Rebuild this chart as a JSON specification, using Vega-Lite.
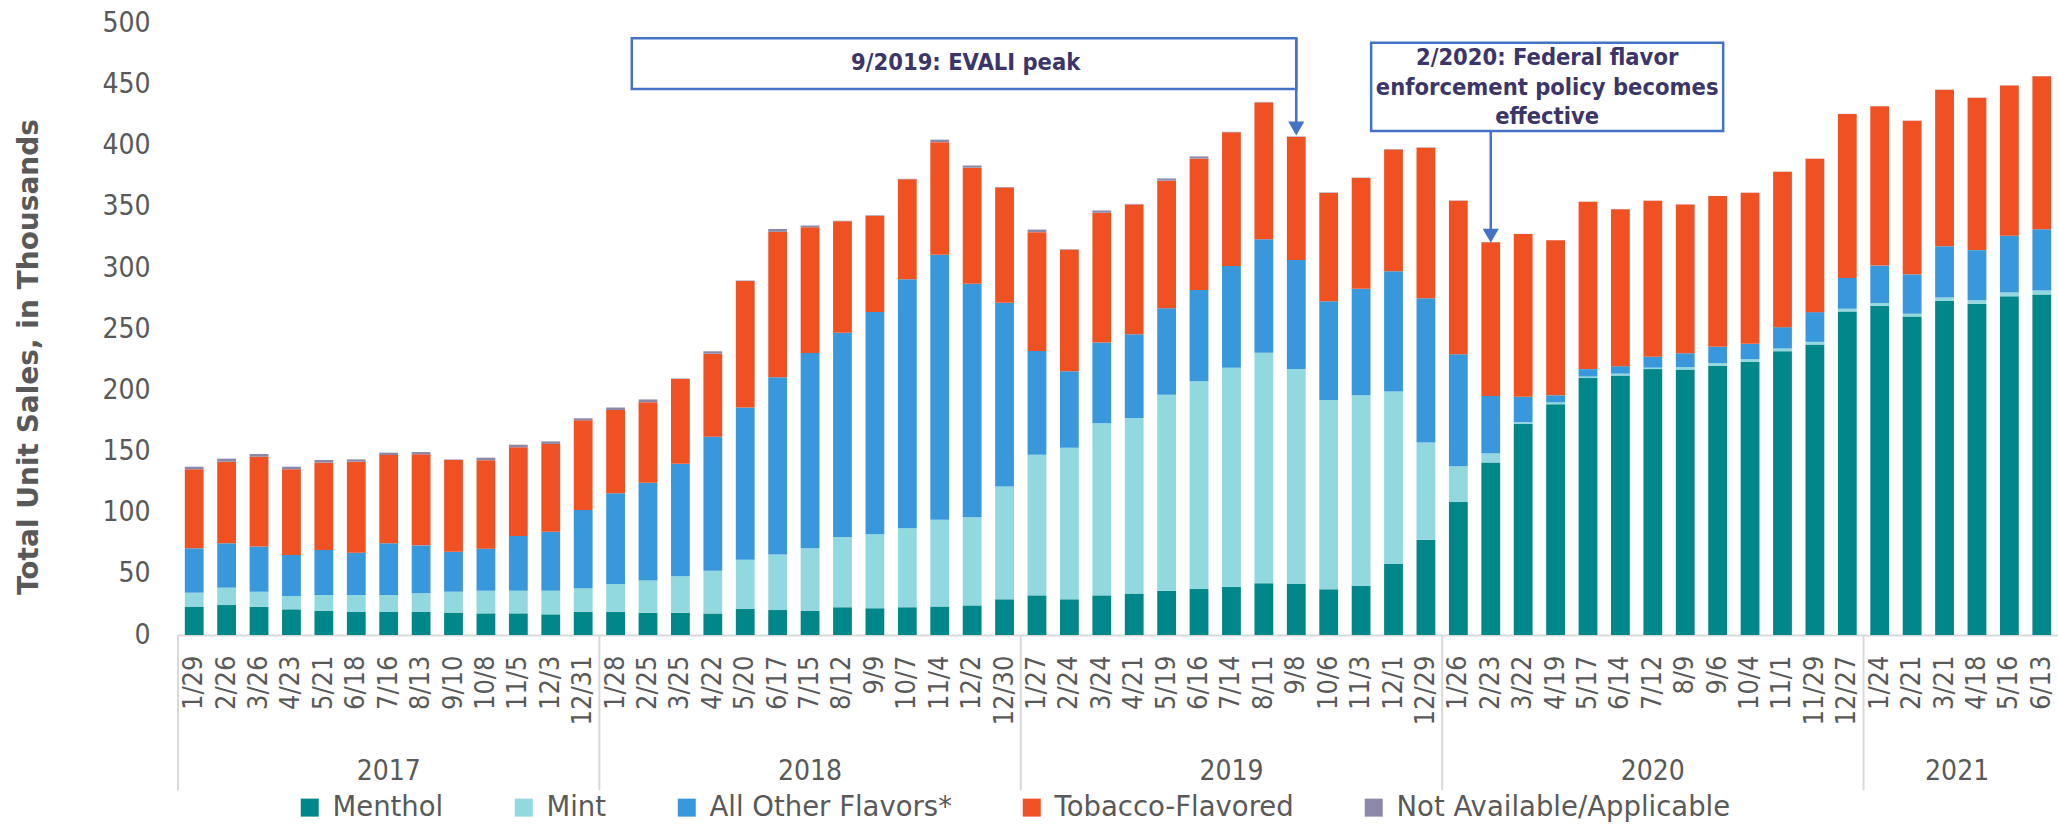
{
  "$schema": "https://vega.github.io/schema/vega-lite/v6.json",
  "width": 1880,
  "height": 611.5,
  "autosize": {"type": "none"},
  "padding": {"left": 178, "top": 23.5, "right": 0, "bottom": 190},
  "background": "white",
  "config": {"view": {"stroke": null}, "font": "DejaVu Sans Condensed, DejaVu Sans"},
  "datasets": {
    "sales": [
      {"w":"1/29","Menthol":23.2,"Mint":11.4,"Other":36.3,"Tobacco":64.6,"NA":2.1},
      {"w":"2/26","Menthol":24.5,"Mint":14.2,"Other":36.3,"Tobacco":66.7,"NA":2.5},
      {"w":"3/26","Menthol":23.2,"Mint":12.2,"Other":36.9,"Tobacco":73.5,"NA":2.2},
      {"w":"4/23","Menthol":21.0,"Mint":10.9,"Other":33.5,"Tobacco":70.1,"NA":2.1},
      {"w":"5/21","Menthol":19.9,"Mint":12.8,"Other":36.8,"Tobacco":71.4,"NA":2.2},
      {"w":"6/18","Menthol":19.1,"Mint":13.6,"Other":34.6,"Tobacco":74.4,"NA":1.9},
      {"w":"7/16","Menthol":18.8,"Mint":13.9,"Other":42.3,"Tobacco":72.2,"NA":1.9},
      {"w":"8/13","Menthol":18.8,"Mint":15.3,"Other":39.2,"Tobacco":74.4,"NA":1.9},
      {"w":"9/10","Menthol":18.3,"Mint":17.1,"Other":32.7,"Tobacco":75.0,"NA":0.4},
      {"w":"10/8","Menthol":17.7,"Mint":18.5,"Other":34.4,"Tobacco":72.3,"NA":2.1},
      {"w":"11/5","Menthol":17.7,"Mint":18.5,"Other":44.7,"Tobacco":72.6,"NA":2.1},
      {"w":"12/3","Menthol":16.9,"Mint":19.3,"Other":48.3,"Tobacco":71.7,"NA":2.1},
      {"w":"12/31","Menthol":19.0,"Mint":19.3,"Other":63.9,"Tobacco":73.3,"NA":1.7},
      {"w":"1/28","Menthol":19.0,"Mint":22.7,"Other":74.2,"Tobacco":68.1,"NA":2.0},
      {"w":"2/25","Menthol":18.2,"Mint":26.4,"Other":79.8,"Tobacco":65.9,"NA":2.3},
      {"w":"3/25","Menthol":18.2,"Mint":29.8,"Other":92.0,"Tobacco":69.3,"NA":0.4},
      {"w":"4/22","Menthol":17.6,"Mint":34.9,"Other":109.7,"Tobacco":67.8,"NA":2.0},
      {"w":"5/20","Menthol":21.3,"Mint":40.3,"Other":124.4,"Tobacco":103.4,"NA":0.4},
      {"w":"6/17","Menthol":20.4,"Mint":45.5,"Other":144.8,"Tobacco":119.0,"NA":2.3},
      {"w":"7/15","Menthol":19.9,"Mint":51.1,"Other":159.6,"Tobacco":102.8,"NA":1.4},
      {"w":"8/12","Menthol":22.7,"Mint":57.4,"Other":167.0,"Tobacco":91.2,"NA":0.4},
      {"w":"9/9","Menthol":21.9,"Mint":60.5,"Other":181.7,"Tobacco":78.7,"NA":0.4},
      {"w":"10/7","Menthol":22.7,"Mint":64.5,"Other":203.6,"Tobacco":81.8,"NA":0.4},
      {"w":"11/4","Menthol":23.3,"Mint":71.0,"Other":216.7,"Tobacco":92.0,"NA":2.0},
      {"w":"12/2","Menthol":24.2,"Mint":72.1,"Other":191.0,"Tobacco":94.8,"NA":1.8},
      {"w":"12/30","Menthol":29.2,"Mint":92.2,"Other":150.3,"Tobacco":94.2,"NA":0.4},
      {"w":"1/27","Menthol":32.4,"Mint":114.9,"Other":84.9,"Tobacco":97.2,"NA":2.1},
      {"w":"2/24","Menthol":29.2,"Mint":124.0,"Other":62.5,"Tobacco":99.3,"NA":0.4},
      {"w":"3/24","Menthol":32.4,"Mint":140.8,"Other":66.0,"Tobacco":106.1,"NA":1.8},
      {"w":"4/21","Menthol":33.9,"Mint":143.5,"Other":68.6,"Tobacco":106.1,"NA":0.4},
      {"w":"5/19","Menthol":36.2,"Mint":160.3,"Other":70.7,"Tobacco":104.3,"NA":1.8},
      {"w":"6/16","Menthol":37.7,"Mint":169.7,"Other":74.6,"Tobacco":107.5,"NA":1.8},
      {"w":"7/14","Menthol":39.5,"Mint":179.1,"Other":83.1,"Tobacco":109.3,"NA":0.4},
      {"w":"8/11","Menthol":42.4,"Mint":188.3,"Other":92.8,"Tobacco":112.0,"NA":0.4},
      {"w":"9/8","Menthol":41.8,"Mint":175.6,"Other":89.3,"Tobacco":100.5,"NA":0.4},
      {"w":"10/6","Menthol":37.4,"Mint":154.7,"Other":80.7,"Tobacco":88.7,"NA":0.4},
      {"w":"11/3","Menthol":40.3,"Mint":155.7,"Other":87.1,"Tobacco":90.6,"NA":0.3},
      {"w":"12/1","Menthol":58.0,"Mint":141.1,"Other":98.3,"Tobacco":99.5,"NA":0.3},
      {"w":"12/29","Menthol":77.9,"Mint":79.4,"Other":118.1,"Tobacco":123.1,"NA":0.3},
      {"w":"1/26","Menthol":108.7,"Mint":29.3,"Other":91.6,"Tobacco":125.5,"NA":0.2},
      {"w":"2/23","Menthol":141.1,"Mint":7.6,"Other":46.7,"Tobacco":125.8,"NA":0.2},
      {"w":"3/22","Menthol":172.5,"Mint":1.5,"Other":20.8,"Tobacco":133.1,"NA":0.1},
      {"w":"4/19","Menthol":188.7,"Mint":1.5,"Other":5.8,"Tobacco":126.7,"NA":0.1},
      {"w":"5/17","Menthol":210.1,"Mint":1.2,"Other":6.1,"Tobacco":136.8,"NA":0.1},
      {"w":"6/14","Menthol":212.2,"Mint":1.5,"Other":6.1,"Tobacco":128.3,"NA":0.1},
      {"w":"7/12","Menthol":217.4,"Mint":1.2,"Other":8.9,"Tobacco":127.6,"NA":0.1},
      {"w":"8/9","Menthol":217.0,"Mint":2.1,"Other":11.3,"Tobacco":121.6,"NA":0.1},
      {"w":"9/6","Menthol":220.1,"Mint":2.2,"Other":13.3,"Tobacco":123.3,"NA":0.1},
      {"w":"10/4","Menthol":223.3,"Mint":2.2,"Other":12.6,"Tobacco":123.6,"NA":0.1},
      {"w":"11/1","Menthol":232.1,"Mint":2.2,"Other":17.4,"Tobacco":127.0,"NA":0.1},
      {"w":"11/29","Menthol":237.5,"Mint":2.2,"Other":24.3,"Tobacco":125.5,"NA":0.1},
      {"w":"12/27","Menthol":264.6,"Mint":2.2,"Other":25.2,"Tobacco":134.0,"NA":0.1},
      {"w":"1/24","Menthol":269.3,"Mint":2.2,"Other":30.6,"Tobacco":130.3,"NA":0.1},
      {"w":"2/21","Menthol":260.5,"Mint":2.2,"Other":32.2,"Tobacco":125.5,"NA":0.1},
      {"w":"3/21","Menthol":273.1,"Mint":2.8,"Other":42.0,"Tobacco":128.0,"NA":0.1},
      {"w":"4/18","Menthol":270.9,"Mint":2.8,"Other":41.0,"Tobacco":124.6,"NA":0.1},
      {"w":"5/16","Menthol":276.9,"Mint":3.1,"Other":46.4,"Tobacco":123.0,"NA":0.1},
      {"w":"6/13","Menthol":278.5,"Mint":3.1,"Other":50.2,"Tobacco":125.1,"NA":0.1}
    ],
    "yearStarts": [{"w":"1/29"},{"w":"1/28"},{"w":"1/27"},{"w":"1/26"},{"w":"1/24"}],
    "yearMids": [{"w":"7/16","yr":"2017"},{"w":"7/15","yr":"2018"},{"w":"7/14","yr":"2019"},{"w":"7/12","yr":"2020"}],
    "yearLast": [{"w":"3/21","yr":"2021"}]
  },
  "layer": [
    {
      "layer": [
        {
          "data": {"name": "sales"},
          "transform": [
            {"fold": ["Menthol","Mint","Other","Tobacco","NA"], "as": ["cat","v"]},
            {"calculate": "indexof(['Menthol','Mint','Other','Tobacco','NA'], datum.cat)", "as": "ord"}
          ],
          "mark": {"type": "bar"},
          "encoding": {
            "x": {
              "field": "w", "type": "ordinal",
              "scale": {
                "domain": ["1/29","2/26","3/26","4/23","5/21","6/18","7/16","8/13","9/10","10/8","11/5","12/3","12/31","1/28","2/25","3/25","4/22","5/20","6/17","7/15","8/12","9/9","10/7","11/4","12/2","12/30","1/27","2/24","3/24","4/21","5/19","6/16","7/14","8/11","9/8","10/6","11/3","12/1","12/29","1/26","2/23","3/22","4/19","5/17","6/14","7/12","8/9","9/6","10/4","11/1","11/29","12/27","1/24","2/21","3/21","4/18","5/16","6/13"],
                "paddingInner": 0.42, "paddingOuter": 0.21
              },
              "axis": {
                "title": null, "labelAngle": -90, "labelFont": "DejaVu Sans Condensed, DejaVu Sans",
                "labelFontSize": 27, "labelColor": "#595959", "labelPadding": 20, "ticks": false,
                "domainColor": "#d9d9d9", "domainWidth": 2, "labelOverlap": false, "labelBound": false
              }
            },
            "y": {
              "field": "v", "type": "quantitative", "stack": "zero",
              "scale": {"domain": [0, 500], "nice": false},
              "axis": {
                "title": "Total Unit Sales, in Thousands",
                "values": [0,50,100,150,200,250,300,350,400,450,500],
                "grid": false, "domain": false, "ticks": false, "tickSize": 0, "labelPadding": 28,
                "labelFont": "DejaVu Sans Condensed, DejaVu Sans", "labelFontSize": 28, "labelColor": "#595959",
                "titleFont": "DejaVu Sans", "titleFontWeight": "bold", "titleFontSize": 28, "titleColor": "#595959",
                "titleX": -149, "titleY": 333, "titleBaseline": "middle", "titleAlign": "center"
              }
            },
            "color": {
              "field": "cat", "type": "nominal",
              "scale": {"domain": ["Menthol","Mint","Other","Tobacco","NA"], "range": ["#00878A","#91D9DE","#3898DB","#F05123","#8C88A8"]},
              "legend": {
                "title": null, "orient": "none", "legendX": 118, "legendY": 770, "direction": "horizontal",
                "symbolType": "square", "symbolSize": 324, "symbolStrokeWidth": 0,
                "labelFont": "DejaVu Sans", "labelFontSize": 27.5, "labelColor": "#595959",
                "columnPadding": 66, "labelOffset": 9, "labelLimit": 600, "padding": 0,
                "labelExpr": "{'Menthol':'Menthol','Mint':'Mint','Other':'All Other Flavors*','Tobacco':'Tobacco-Flavored','NA':'Not Available/Applicable'}[datum.label]"
              }
            },
            "order": {"field": "ord", "type": "quantitative", "sort": "ascending"}
          }
        },
        {
          "data": {"name": "yearStarts"},
          "mark": {"type": "rule", "color": "#d9d9d9", "strokeWidth": 2},
          "encoding": {
            "x": {"field": "w", "type": "ordinal", "bandPosition": -0.362},
            "y": {"datum": 0},
            "y2": {"datum": -127}
          }
        },
        {
          "data": {"name": "yearMids"},
          "mark": {"type": "text", "font": "DejaVu Sans Condensed, DejaVu Sans", "fontSize": 28, "color": "#595959", "baseline": "middle", "align": "center"},
          "encoding": {
            "x": {"field": "w", "type": "ordinal"},
            "y": {"datum": -112},
            "text": {"field": "yr"}
          }
        },
        {
          "data": {"name": "yearLast"},
          "mark": {"type": "text", "font": "DejaVu Sans Condensed, DejaVu Sans", "fontSize": 28, "color": "#595959", "baseline": "middle", "align": "center"},
          "encoding": {
            "x": {"field": "w", "type": "ordinal", "bandPosition": 1.17},
            "y": {"datum": -112},
            "text": {"field": "yr"}
          }
        }
      ]
    },
    {
      "data": {"values": [{}]},
      "layer": [
        {
          "mark": {"type": "rect", "fill": "white", "stroke": "#4472C4", "strokeWidth": 2.5},
          "encoding": {
            "x": {"datum": 14, "type": "quantitative", "scale": {"domain": [0, 58], "nice": false, "zero": false}, "axis": null},
            "x2": {"datum": 34.5},
            "y": {"datum": 488},
            "y2": {"datum": 446.5}
          }
        },
        {
          "mark": {"type": "text", "font": "DejaVu Sans Condensed, DejaVu Sans", "fontWeight": "bold", "fontSize": 23.5, "color": "#3C3568", "align": "center", "baseline": "middle"},
          "encoding": {
            "x": {"datum": 24.3, "type": "quantitative"},
            "y": {"datum": 467.5},
            "text": {"value": "9/2019: EVALI peak"}
          }
        },
        {
          "mark": {"type": "rule", "color": "#4472C4", "strokeWidth": 2.5},
          "encoding": {
            "x": {"datum": 34.5, "type": "quantitative"},
            "y": {"datum": 488},
            "y2": {"datum": 416}
          }
        },
        {
          "mark": {"type": "point", "shape": "triangle-down", "filled": true, "color": "#4472C4", "size": 260, "opacity": 1},
          "encoding": {
            "x": {"datum": 34.5, "type": "quantitative"},
            "y": {"datum": 414.2}
          }
        },
        {
          "mark": {"type": "rect", "fill": "white", "stroke": "#4472C4", "strokeWidth": 2.5},
          "encoding": {
            "x": {"datum": 36.81, "type": "quantitative"},
            "x2": {"datum": 47.67},
            "y": {"datum": 484.3},
            "y2": {"datum": 412.1}
          }
        },
        {
          "mark": {"type": "text", "font": "DejaVu Sans Condensed, DejaVu Sans", "fontWeight": "bold", "fontSize": 23.5, "color": "#3C3568", "align": "center", "baseline": "middle", "lineHeight": 29.5},
          "encoding": {
            "x": {"datum": 42.24, "type": "quantitative"},
            "y": {"datum": 471.5},
            "text": {"value": ["2/2020: Federal flavor", "enforcement policy becomes", "effective"]}
          }
        },
        {
          "mark": {"type": "rule", "color": "#4472C4", "strokeWidth": 2.5},
          "encoding": {
            "x": {"datum": 40.5, "type": "quantitative"},
            "y": {"datum": 412.1},
            "y2": {"datum": 330}
          }
        },
        {
          "mark": {"type": "point", "shape": "triangle-down", "filled": true, "color": "#4472C4", "size": 260, "opacity": 1},
          "encoding": {
            "x": {"datum": 40.5, "type": "quantitative"},
            "y": {"datum": 326.5}
          }
        }
      ]
    }
  ],
  "resolve": {"scale": {"x": "independent"}, "axis": {"x": "independent"}}
}
